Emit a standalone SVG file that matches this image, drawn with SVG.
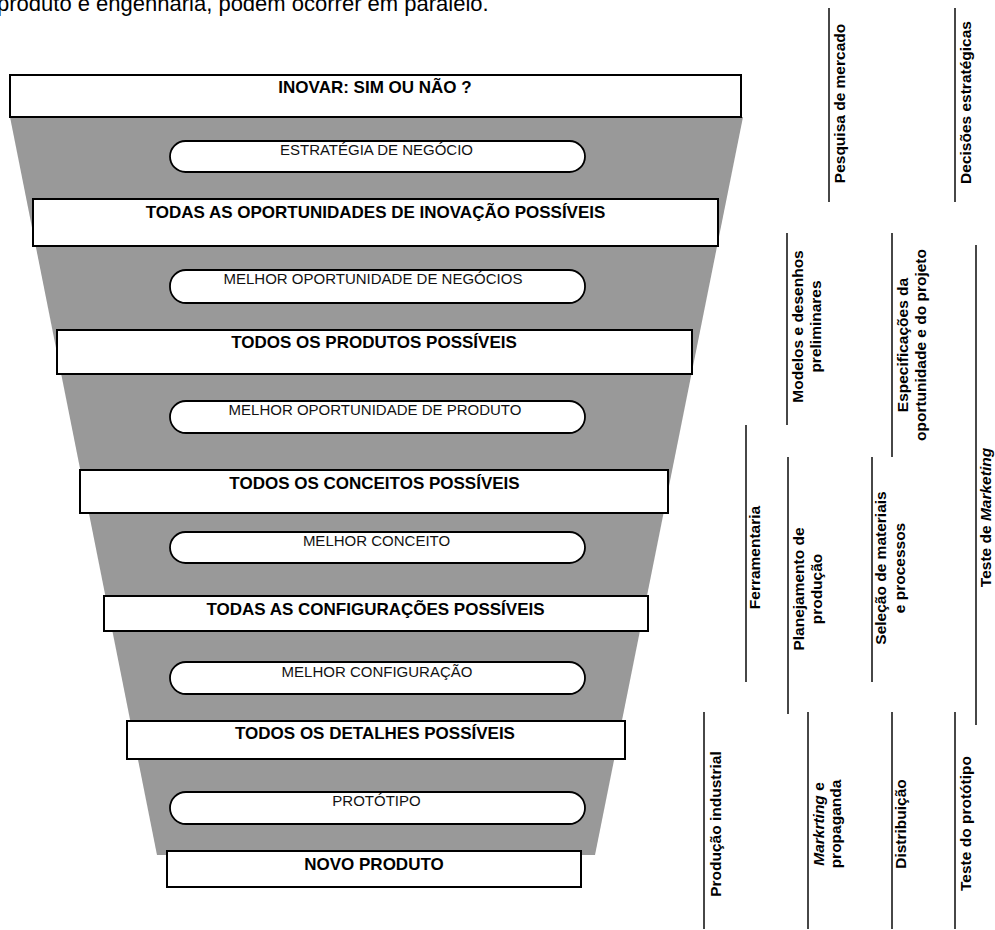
<svg xmlns="http://www.w3.org/2000/svg" width="995" height="930" viewBox="0 0 995 930">
  <style>
    .caption { font-family: "Liberation Sans", Arial, sans-serif; font-size: 22px; fill: #000; }
    .stage rect { fill: #fff; stroke: #000; stroke-width: 2; }
    .stage text { font-family: "Liberation Sans", Arial, sans-serif; font-weight: bold; font-size: 17px; text-anchor: middle; fill: #000; }
    .result rect { fill: #fff; stroke: #000; stroke-width: 1.8; }
    .result text { font-family: "Liberation Sans", Arial, sans-serif; font-size: 15px; text-anchor: middle; fill: #111; }
    .task line { stroke: #333; stroke-width: 1.8; }
    .task text { font-family: "Liberation Sans", Arial, sans-serif; font-weight: bold; font-size: 15.5px; text-anchor: middle; fill: #000; }
    .it { font-style: italic; }
  </style>

  <!-- running text from the page above the figure -->
  <text class="caption" x="-3" y="10.5">produto e engenharia, podem ocorrer em paralelo.</text>

  <!-- funnel body -->
  <polygon id="funnel" points="10,117 743,117 595,855 157,855" fill="#999"/>

  <!-- funnel stages (square boxes) -->
  <g id="stage-inovar" class="stage">
    <rect x="10" y="75" width="731" height="42"/>
    <text x="375" y="93">INOVAR: SIM OU NÃO ?</text>
  </g>
  <g id="stage-oportunidades" class="stage">
    <rect x="33" y="199" width="685" height="47"/>
    <text x="375.5" y="218">TODAS AS OPORTUNIDADES DE INOVAÇÃO POSSÍVEIS</text>
  </g>
  <g id="stage-produtos" class="stage">
    <rect x="57" y="330" width="635" height="44"/>
    <text x="374" y="348">TODOS OS PRODUTOS POSSÍVEIS</text>
  </g>
  <g id="stage-conceitos" class="stage">
    <rect x="80" y="470" width="588" height="43"/>
    <text x="374.5" y="489">TODOS OS CONCEITOS POSSÍVEIS</text>
  </g>
  <g id="stage-configuracoes" class="stage">
    <rect x="104" y="596" width="544" height="35"/>
    <text x="375.5" y="615">TODAS AS CONFIGURAÇÕES POSSÍVEIS</text>
  </g>
  <g id="stage-detalhes" class="stage">
    <rect x="127" y="721" width="498" height="38"/>
    <text x="375" y="739">TODOS OS DETALHES POSSÍVEIS</text>
  </g>

  <!-- selections (rounded boxes) -->
  <g id="sel-estrategia" class="result">
    <rect x="170" y="141" width="415" height="31" rx="15.5"/>
    <text x="376.5" y="155">ESTRATÉGIA DE NEGÓCIO</text>
  </g>
  <g id="sel-negocios" class="result">
    <rect x="170" y="270" width="415" height="33" rx="16"/>
    <text x="373" y="284">MELHOR OPORTUNIDADE DE NEGÓCIOS</text>
  </g>
  <g id="sel-produto" class="result">
    <rect x="170" y="401" width="415" height="32" rx="16"/>
    <text x="375" y="415">MELHOR OPORTUNIDADE DE PRODUTO</text>
  </g>
  <g id="sel-conceito" class="result">
    <rect x="170" y="532" width="415" height="31" rx="15.5"/>
    <text x="376.5" y="546">MELHOR CONCEITO</text>
  </g>
  <g id="sel-configuracao" class="result">
    <rect x="170" y="662" width="415" height="32" rx="16"/>
    <text x="377" y="677">MELHOR CONFIGURAÇÃO</text>
  </g>
  <g id="sel-prototipo" class="result">
    <rect x="170" y="792" width="415" height="32" rx="16"/>
    <text x="376.5" y="806">PROTÓTIPO</text>
  </g>

  <g id="stage-novo-produto" class="stage">
    <rect x="167" y="851" width="414" height="36"/>
    <text x="374" y="870">NOVO PRODUTO</text>
  </g>

  <!-- parallel activities: vertical labels with a rule on their left -->
  <g id="act-pesquisa" class="task">
    <line x1="829" y1="8" x2="829" y2="202"/>
    <text transform="translate(845,103.5) rotate(-90)">Pesquisa de mercado</text>
  </g>
  <g id="act-decisoes" class="task">
    <line x1="955" y1="8" x2="955" y2="202"/>
    <text transform="translate(971,102.5) rotate(-90)">Decisões estratégicas</text>
  </g>
  <g id="act-modelos" class="task">
    <line x1="787" y1="233" x2="787" y2="425"/>
    <text transform="translate(803,326.5) rotate(-90)"><tspan x="0" y="0">Modelos e desenhos</tspan><tspan x="0" dy="18">preliminares</tspan></text>
  </g>
  <g id="act-especificacoes" class="task">
    <line x1="892" y1="233" x2="892" y2="457"/>
    <text transform="translate(908,345) rotate(-90)"><tspan x="0" y="0">Especificações da</tspan><tspan x="0" dy="17.5">oportunidade e do projeto</tspan></text>
  </g>
  <g id="act-teste-marketing" class="task">
    <line x1="976" y1="245" x2="976" y2="725"/>
    <text transform="translate(991,517.5) rotate(-90)">Teste de <tspan class="it">Marketing</tspan></text>
  </g>
  <g id="act-ferramentaria" class="task">
    <line x1="746" y1="425" x2="746" y2="682"/>
    <text transform="translate(760,557.5) rotate(-90)">Ferramentaria</text>
  </g>
  <g id="act-planejamento" class="task">
    <line x1="788" y1="457" x2="788" y2="714"/>
    <text transform="translate(804,589) rotate(-90)"><tspan x="0" y="0">Planejamento de</tspan><tspan x="0" dy="17.5">produção</tspan></text>
  </g>
  <g id="act-selecao" class="task">
    <line x1="872" y1="457" x2="872" y2="682"/>
    <text transform="translate(886,568) rotate(-90)"><tspan x="0" y="0">Seleção de materiais</tspan><tspan x="0" dy="18.5">e processos</tspan></text>
  </g>
  <g id="act-producao" class="task">
    <line x1="704" y1="712" x2="704" y2="929"/>
    <text transform="translate(721,824) rotate(-90)">Produção industrial</text>
  </g>
  <g id="act-marketing" class="task">
    <line x1="808" y1="712" x2="808" y2="929"/>
    <text transform="translate(824,824) rotate(-90)"><tspan x="0" y="0"><tspan class="it">Markrting</tspan> e</tspan><tspan x="0" dy="17">propaganda</tspan></text>
  </g>
  <g id="act-distribuicao" class="task">
    <line x1="892" y1="712" x2="892" y2="929"/>
    <text transform="translate(906,824) rotate(-90)">Distribuição</text>
  </g>
  <g id="act-teste-prototipo" class="task">
    <line x1="955" y1="712" x2="955" y2="929"/>
    <text transform="translate(971,823.5) rotate(-90)">Teste do protótipo</text>
  </g>
</svg>
